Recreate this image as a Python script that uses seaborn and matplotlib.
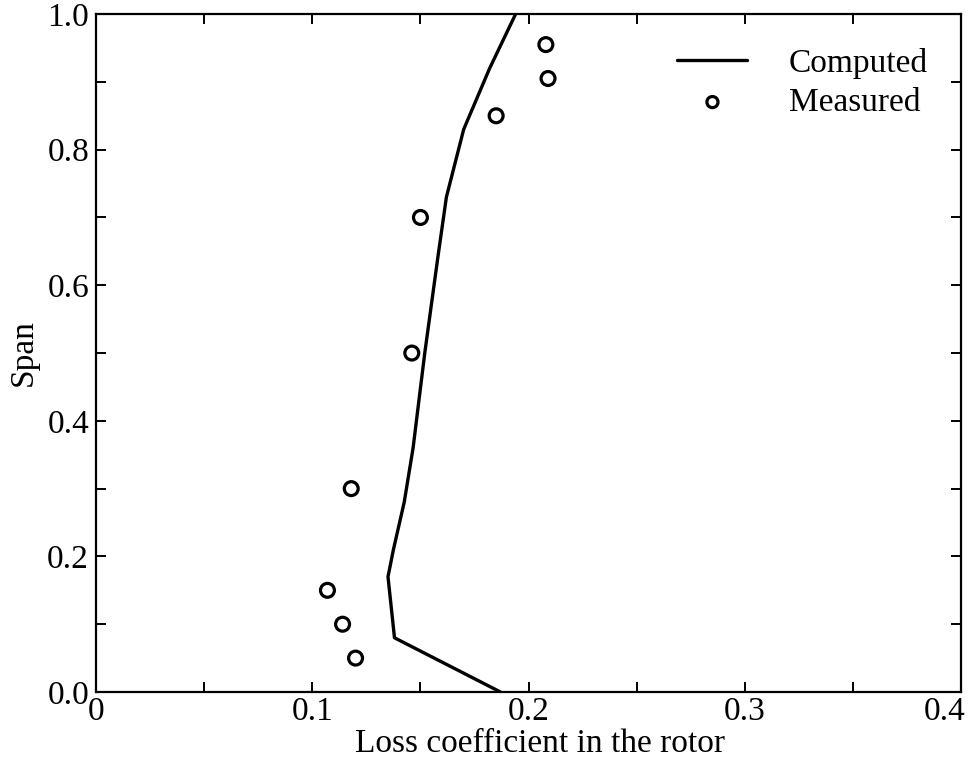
import matplotlib
matplotlib.use("Agg")
import matplotlib.pyplot as plt
import matplotlib.transforms as mtransforms
import seaborn as sns
import pandas as pd
from matplotlib.ticker import MultipleLocator

# computed loss profile
computed_loss = [0.187, 0.138, 0.135, 0.1375, 0.1425, 0.1466, 0.152, 0.158, 0.162, 0.170, 0.182, 0.194]
computed_span = [0.0, 0.08, 0.17, 0.21, 0.28, 0.36, 0.50, 0.64, 0.73, 0.83, 0.92, 1.0]

# measured points
measured_loss = [0.120, 0.114, 0.107, 0.118, 0.146, 0.150, 0.185, 0.209, 0.208]
measured_span = [0.05, 0.10, 0.15, 0.30, 0.50, 0.70, 0.85, 0.905, 0.955]

x_ticks = [0, 0.1, 0.2, 0.3, 0.4]
x_labels = ["0", "0.1", "0.2", "0.3", "0.4"]
y_ticks = [0.0, 0.2, 0.4, 0.6, 0.8, 1.0]
y_labels = ["0.0", "0.2", "0.4", "0.6", "0.8", "1.0"]

sns.set_theme(style="ticks")
plt.rcParams["font.family"] = ["Liberation Serif", "DejaVu Serif"]
plt.rcParams["text.color"] = "black"
plt.rcParams["axes.labelcolor"] = "black"

df_comp = pd.DataFrame({"loss": computed_loss, "span": computed_span})
df_meas = pd.DataFrame({"loss": measured_loss, "span": measured_span})

fig = plt.figure(figsize=(9.72, 7.66), dpi=100)
ax = fig.add_axes([0.0988, 0.0966, 0.89, 0.885])

sns.lineplot(data=df_comp, x="loss", y="span", sort=False, estimator=None,
             color="black", linewidth=2.4, ax=ax, label="Computed")
sns.scatterplot(data=df_meas, x="loss", y="span", marker="o", s=100,
                facecolor="none", edgecolor="black", linewidth=2.3,
                ax=ax, label="Measured")

ax.set_xlim(0, 0.4)
ax.set_ylim(0, 1.0)
ax.set_xticks(x_ticks)
ax.set_xticklabels(x_labels)
ax.set_yticks(y_ticks)
ax.set_yticklabels(y_labels)
ax.xaxis.set_minor_locator(MultipleLocator(0.05))
ax.yaxis.set_minor_locator(MultipleLocator(0.1))
ax.tick_params(which="both", direction="in", top=True, right=True,
               length=7, width=1.4, labelsize=24, pad=5, colors="black")
ax.tick_params(axis="x", pad=3)

# last x label sits against the right edge in the original
last = ax.get_xticklabels()[-1]
last.set_horizontalalignment("right")
last.set_transform(last.get_transform() + mtransforms.ScaledTranslation(4 / 100, 0, fig.dpi_scale_trans))

for sp in ax.spines.values():
    sp.set_linewidth(1.6)
    sp.set_color("black")

ax.set_xlabel("Loss coefficient in the rotor", fontsize=24)
ax.set_ylabel("Span", fontsize=24, labelpad=6)
ax.xaxis.set_label_coords(0.513, -0.054)

leg = ax.legend(loc="upper right", bbox_to_anchor=(0.962, 0.95), frameon=False,
                fontsize=24, handlelength=2.1, handletextpad=1.25,
                labelspacing=0.25, borderaxespad=0, borderpad=0, markerscale=0.8)

fig.savefig("out.png", dpi=100)
